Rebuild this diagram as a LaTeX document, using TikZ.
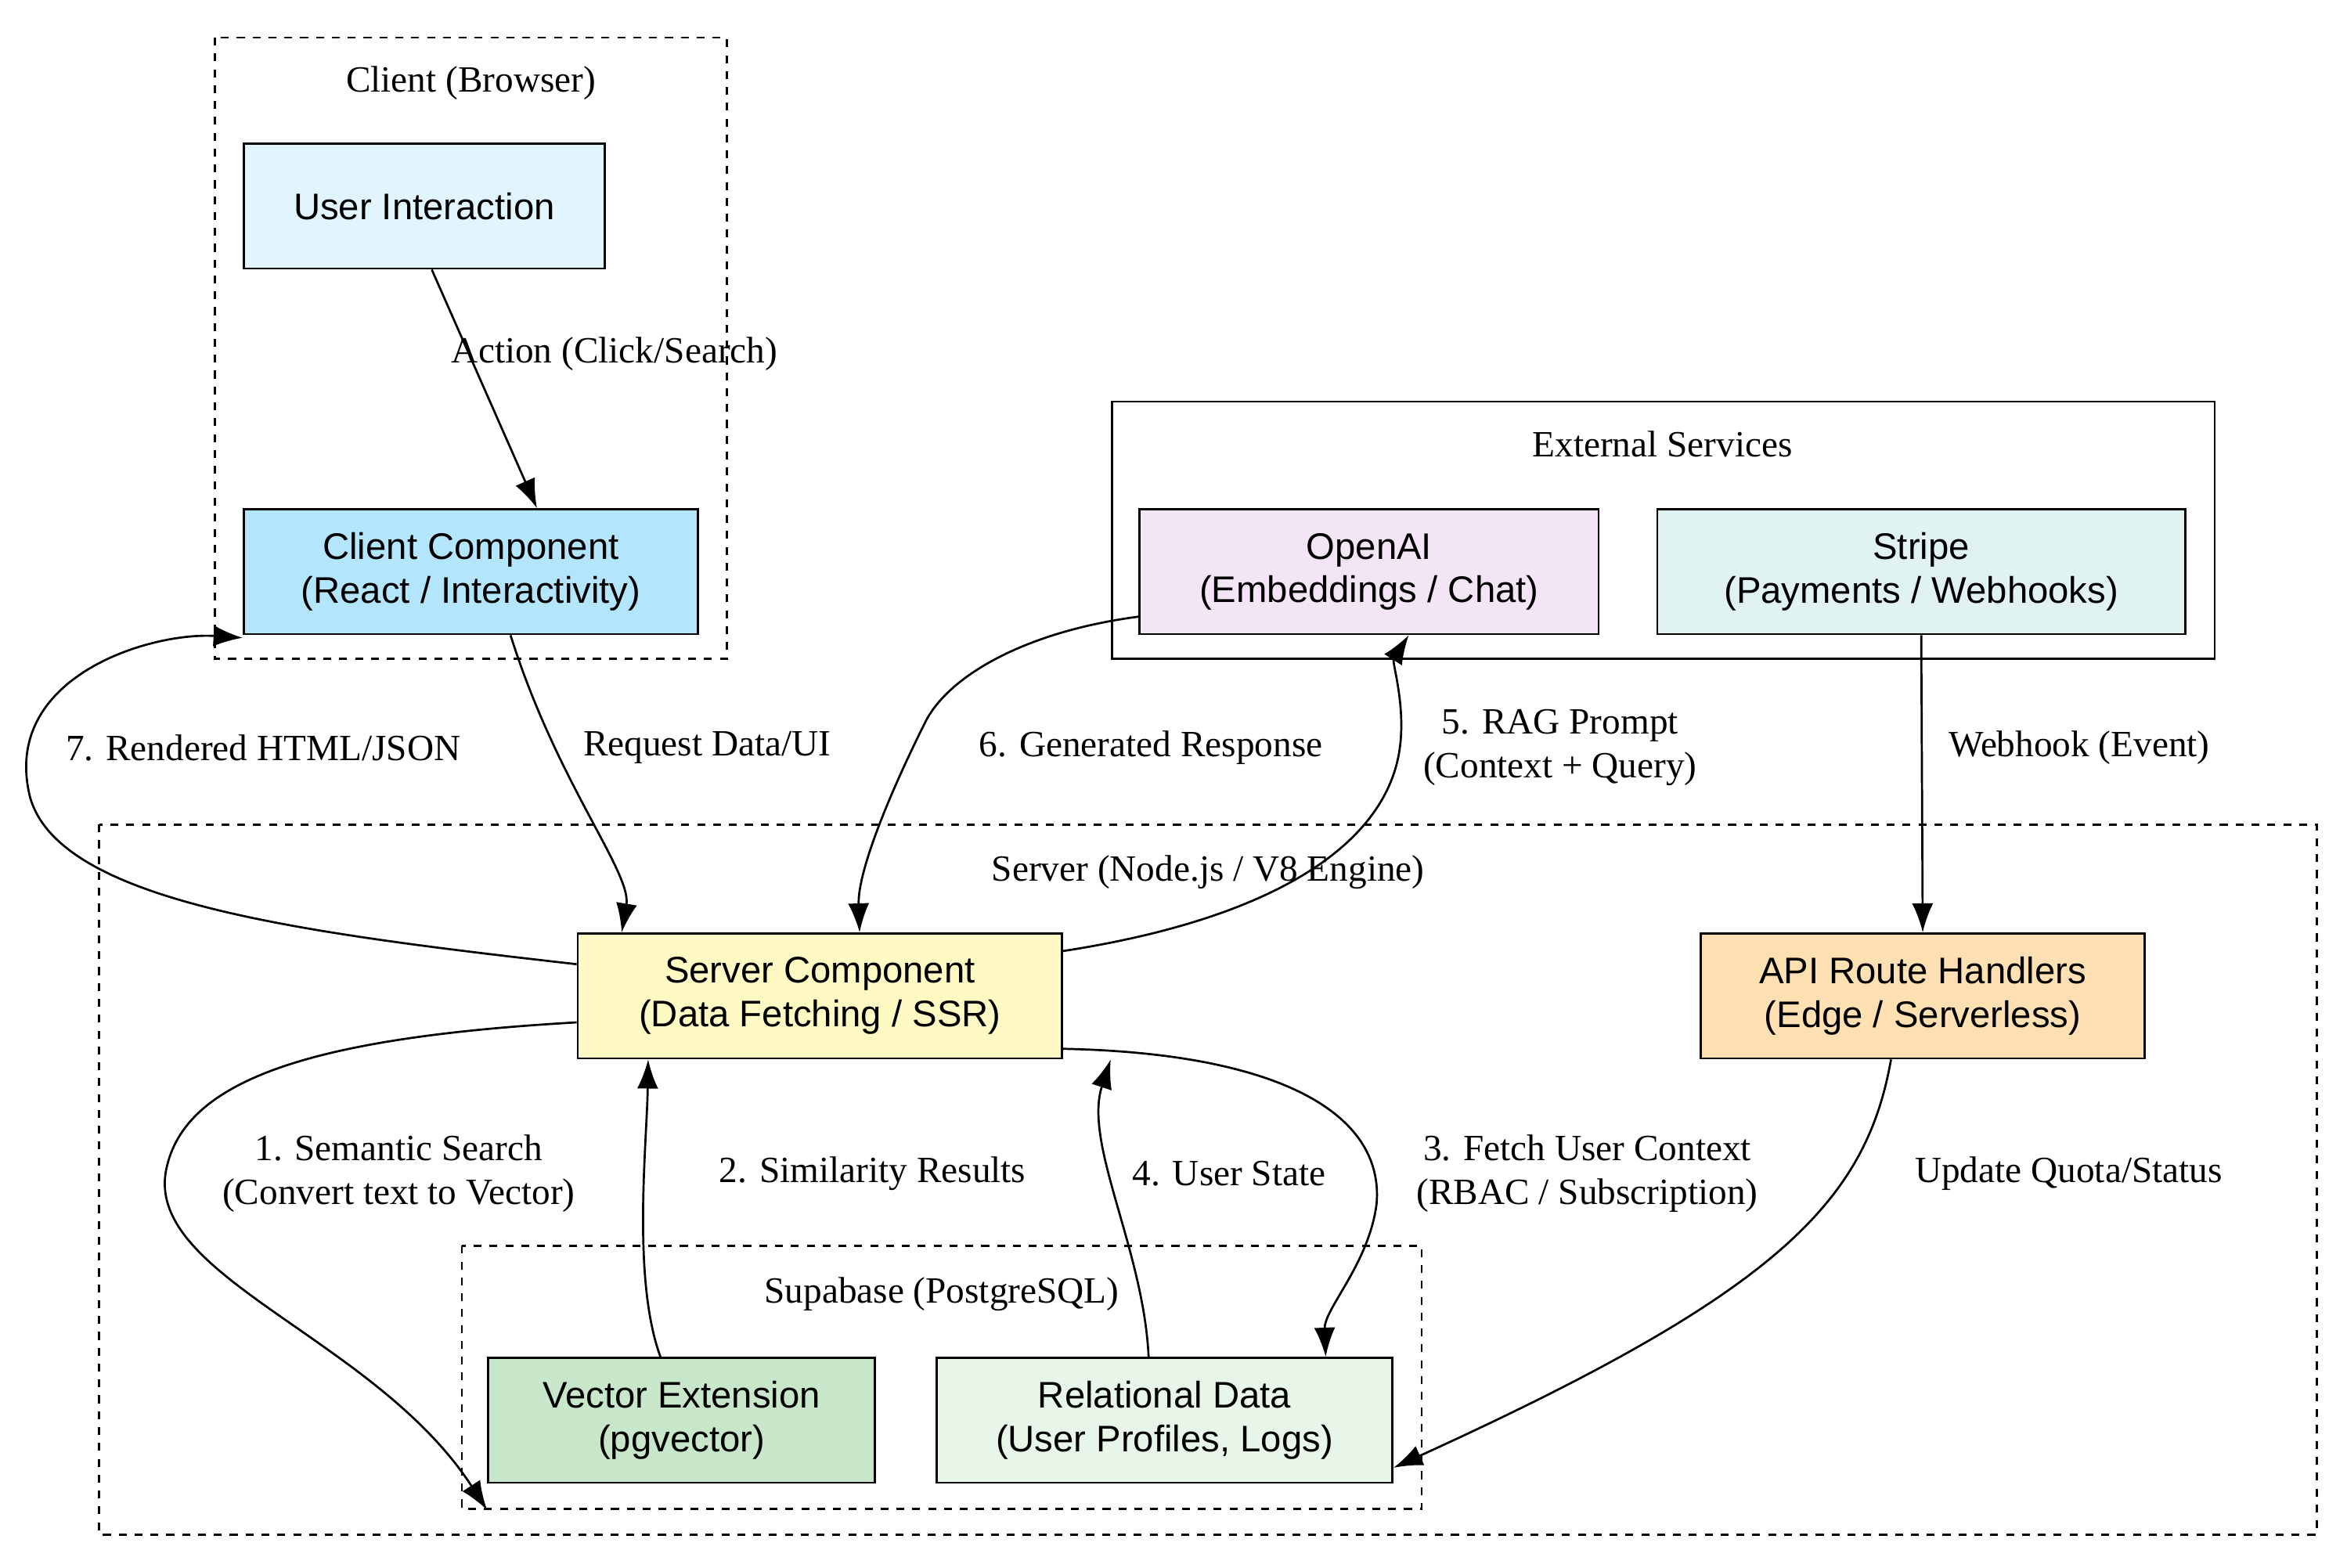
\documentclass[tikz,border=0pt]{standalone}
\usepackage{fontspec}
\setmainfont{Liberation Serif}
\newfontfamily\nodefont{Liberation Sans}
\usetikzlibrary{arrows.meta}
\definecolor{cuser}{HTML}{E1F5FE}
\definecolor{cclient}{HTML}{B3E5FC}
\definecolor{copenai}{HTML}{F3E5F5}
\definecolor{cstripe}{HTML}{E0F2F1}
\definecolor{cserver}{HTML}{FFF9C4}
\definecolor{capi}{HTML}{FFE0B2}
\definecolor{cvector}{HTML}{C8E6C9}
\definecolor{crel}{HTML}{E8F5E9}
\begin{document}
\begin{tikzpicture}[x=0.02cm,y=-0.02cm]
\tikzset{box/.style = {draw,thick,align=center,inner sep=0pt,minimum height=83*0.02cm,font=\nodefont\fontsize{14}{16.5}\selectfont}}
\tikzset{edge/.style = {-{Latex[length=11pt,width=8pt]},thick}}
\tikzset{lbl/.style = {font=\fontsize{14}{16.5}\selectfont,align=center}}
\tikzset{cluster/.style = {draw,thick,dashed}}
\useasboundingbox (0,0) rectangle (1560,1042);
  % clusters
  \draw[cluster] (143,25) rectangle (483,438);
  \node[lbl] (lclient) at (313,55) {Client (Browser)};
  \draw[thick] (739,267) rectangle (1472,438);
  \node[lbl] (lext) at (1105,295) {External Services};
  \draw[cluster] (66,548) rectangle (1540,1020);
  \node[lbl] (lserver) at (803,580) {Server (Node.js / V8 Engine)};
  \draw[cluster] (307,828) rectangle (945,1003);
  \node[lbl] (lsupa) at (626,860) {Supabase (PostgreSQL)};
  % nodes
  \node[box,fill=cuser,minimum width=240*0.02cm] (user) at (282,137) {User Interaction};
  \node[box,fill=cclient,minimum width=302*0.02cm] (client) at (313,380) {Client Component\\(React / Interactivity)};
  \node[box,fill=copenai,minimum width=305*0.02cm] (openai) at (910,380) {OpenAI\\(Embeddings / Chat)};
  \node[box,fill=cstripe,minimum width=351*0.02cm] (stripe) at (1277,380) {Stripe\\(Payments / Webhooks)};
  \node[box,fill=cserver,minimum width=322*0.02cm] (server) at (545,662) {Server Component\\(Data Fetching / SSR)};
  \node[box,fill=capi,minimum width=295*0.02cm] (api) at (1278,662) {API Route Handlers\\(Edge / Serverless)};
  \node[box,fill=cvector,minimum width=257*0.02cm] (vector) at (453,944) {Vector Extension\\(pgvector)};
  \node[box,fill=crel,minimum width=303*0.02cm] (rel) at (774,944) {Relational Data\\(User Profiles, Logs)};
  % edges
  \draw[edge] (user.south) ++(5,0) coordinate (u1) (u1) -- ([xshift=25]client.north);
  \node[lbl,anchor=west] (e1) at (294,235) {Action (Click/Search)};
  \draw[edge] ([xshift=15]client.south) .. controls (370,520) and (420,580) .. ([xshift=-75]server.north);
  \node[lbl] (e2) at (470,497) {Request Data/UI};
  \draw[edge] ([yshift=12]server.west) .. controls (200,620) and (40,600) .. (20,530) .. controls (0,450) and (100,420) .. ([yshift=-25]client.west);
  \node[lbl] (e3) at (175,497) {7. Rendered HTML/JSON};
  \draw[edge] ([yshift=-17]openai.west) .. controls (680,420) and (630,450) .. (615,480) .. controls (590,530) and (570,580) .. ([xshift=15]server.north);
  \node[lbl] (e4) at (765,497) {6. Generated Response};
  \draw[edge] ([yshift=17]server.east) .. controls (850,610) and (920,560) .. (930,500) .. controls (935,470) and (925,440) .. ([xshift=15]openai.south);
  \node[lbl] (e5) at (1037,497) {5. RAG Prompt\\(Context + Query)};
  \draw[edge] ([xshift=0]stripe.south) -- (api.north);
  \node[lbl] (e6) at (1382,497) {Webhook (Event)};
  \draw[edge] ([yshift=-10]server.west) .. controls (200,690) and (120,720) .. (110,780) .. controls (100,850) and (250,890) .. ([yshift=-34]vector.west);
  \node[lbl] (e7) at (265,780) {1. Semantic Search\\(Convert text to Vector)};
  \draw[edge] ([xshift=-8]vector.north) .. controls (420,850) and (430,760) .. ([xshift=-65]server.south);
  \node[lbl] (e8) at (580,780) {2. Similarity Results};
  \draw[edge] ([xshift=-6]rel.north) .. controls (760,830) and (720,760) .. ([xshift=110]server.south);
  \node[lbl] (e9) at (817,780) {4. User State};
  \draw[edge] ([yshift=-20]server.east) .. controls (850,700) and (920,740) .. (915,800) .. controls (910,840) and (880,870) .. ([xshift=61]rel.north);
  \node[lbl] (e10) at (1055,780) {3. Fetch User Context\\(RBAC / Subscription)};
  \draw[edge] ([xshift=-12]api.south) .. controls (1240,800) and (1180,860) .. ([yshift=-18]rel.east);
  \node[lbl] (e11) at (1375,780) {Update Quota/Status};
\end{tikzpicture}
\end{document}
